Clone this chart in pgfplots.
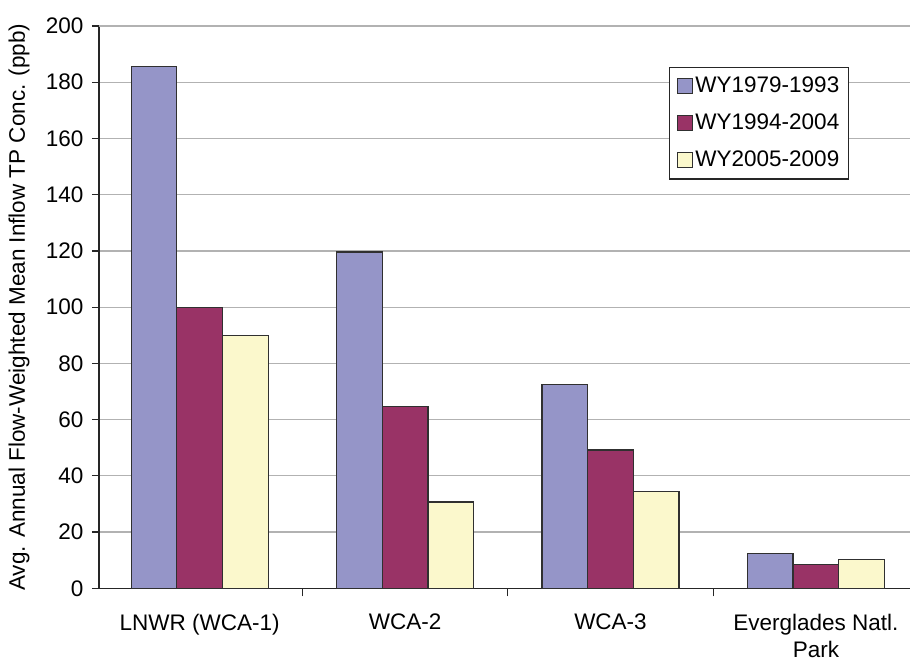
\documentclass[border=0pt]{standalone}
\usepackage{pgfplots}
\pgfplotsset{compat=1.18}
\usepackage{fontspec}
\setmainfont{Liberation Sans}
\definecolor{cA}{HTML}{9595C8}
\definecolor{cB}{HTML}{993366}
\definecolor{cC}{HTML}{FBF8CC}
\definecolor{edge}{HTML}{303030}
\begin{document}
\fontsize{22.5}{27}\selectfont
\begin{tikzpicture}
\useasboundingbox (0pt,0pt) rectangle (910pt,662pt);
\begin{axis}[
  at={(99pt,73.7pt)}, anchor=south west,
  scale only axis,
  width=811pt, height=562.3pt,
  xmin=-0.49, xmax=3.458,
  ymin=0, ymax=200,
  ybar=0pt, bar width=45.7pt,
  axis x line=bottom, axis y line=left,
  axis line style={-, line width=1.2pt, black!85},
  xtick={0,1,2,3},
  xticklabels={{LNWR (WCA-1)},{WCA-2},{WCA-3},{Everglades Natl.\\Park}},
  xticklabel style={align=center, font=\fontsize{22.5}{27.5}\selectfont, yshift=-11pt},
  major x tick style={draw=none},
  minor xtick={-0.5,0.5,1.5,2.5},
  minor x tick style={line width=1.2pt, black!85},
  minor tick length=8pt,
  ytick={0,20,...,180},
  extra y ticks={200},
  extra y tick style={grid style={line width=1.2pt, black!65}},
  yticklabel style={font=\fontsize{22.5}{27}\selectfont, xshift=-1pt},
  major y tick style={line width=1.2pt, black!85},
  major tick length=7pt,
  tick align=outside,
  /pgf/number format/assume math mode=true,
  ymajorgrids,
  major grid style={line width=1.2pt, gray!60},
  ylabel={Avg. Annual Flow-Weighted Mean Inflow TP Conc. (ppb)},
  ylabel style={at={(axis description cs:-0.0987,0.5)}, anchor=center, font=\fontsize{22.5}{27}\selectfont},
  legend style={at={(0.703,0.927)}, anchor=north west, draw=black!85, line width=1.2pt,
    font=\fontsize{22.5}{27}\selectfont, row sep=18pt, inner xsep=7pt, inner ysep=9pt,
    nodes={inner xsep=2.5pt, inner ysep=0pt}},
  legend cell align=left,
  legend image code/.code={\draw[#1, line width=1.2pt] (0pt,-7.5pt) rectangle (15pt,7.5pt);},
  every axis plot/.append style={draw=edge, line width=1.2pt},
  clip=false,
]
\addplot[fill=cA] coordinates {(0,185.5) (1,119.6) (2,72.5) (3,12.5)};
\addplot[fill=cB] coordinates {(0,99.8) (1,64.8) (2,49.2) (3,8.4)};
\addplot[fill=cC] coordinates {(0,89.9) (1,30.7) (2,34.4) (3,10.2)};
\legend{WY1979-1993,WY1994-2004,WY2005-2009}
\end{axis}
\end{tikzpicture}
\end{document}
